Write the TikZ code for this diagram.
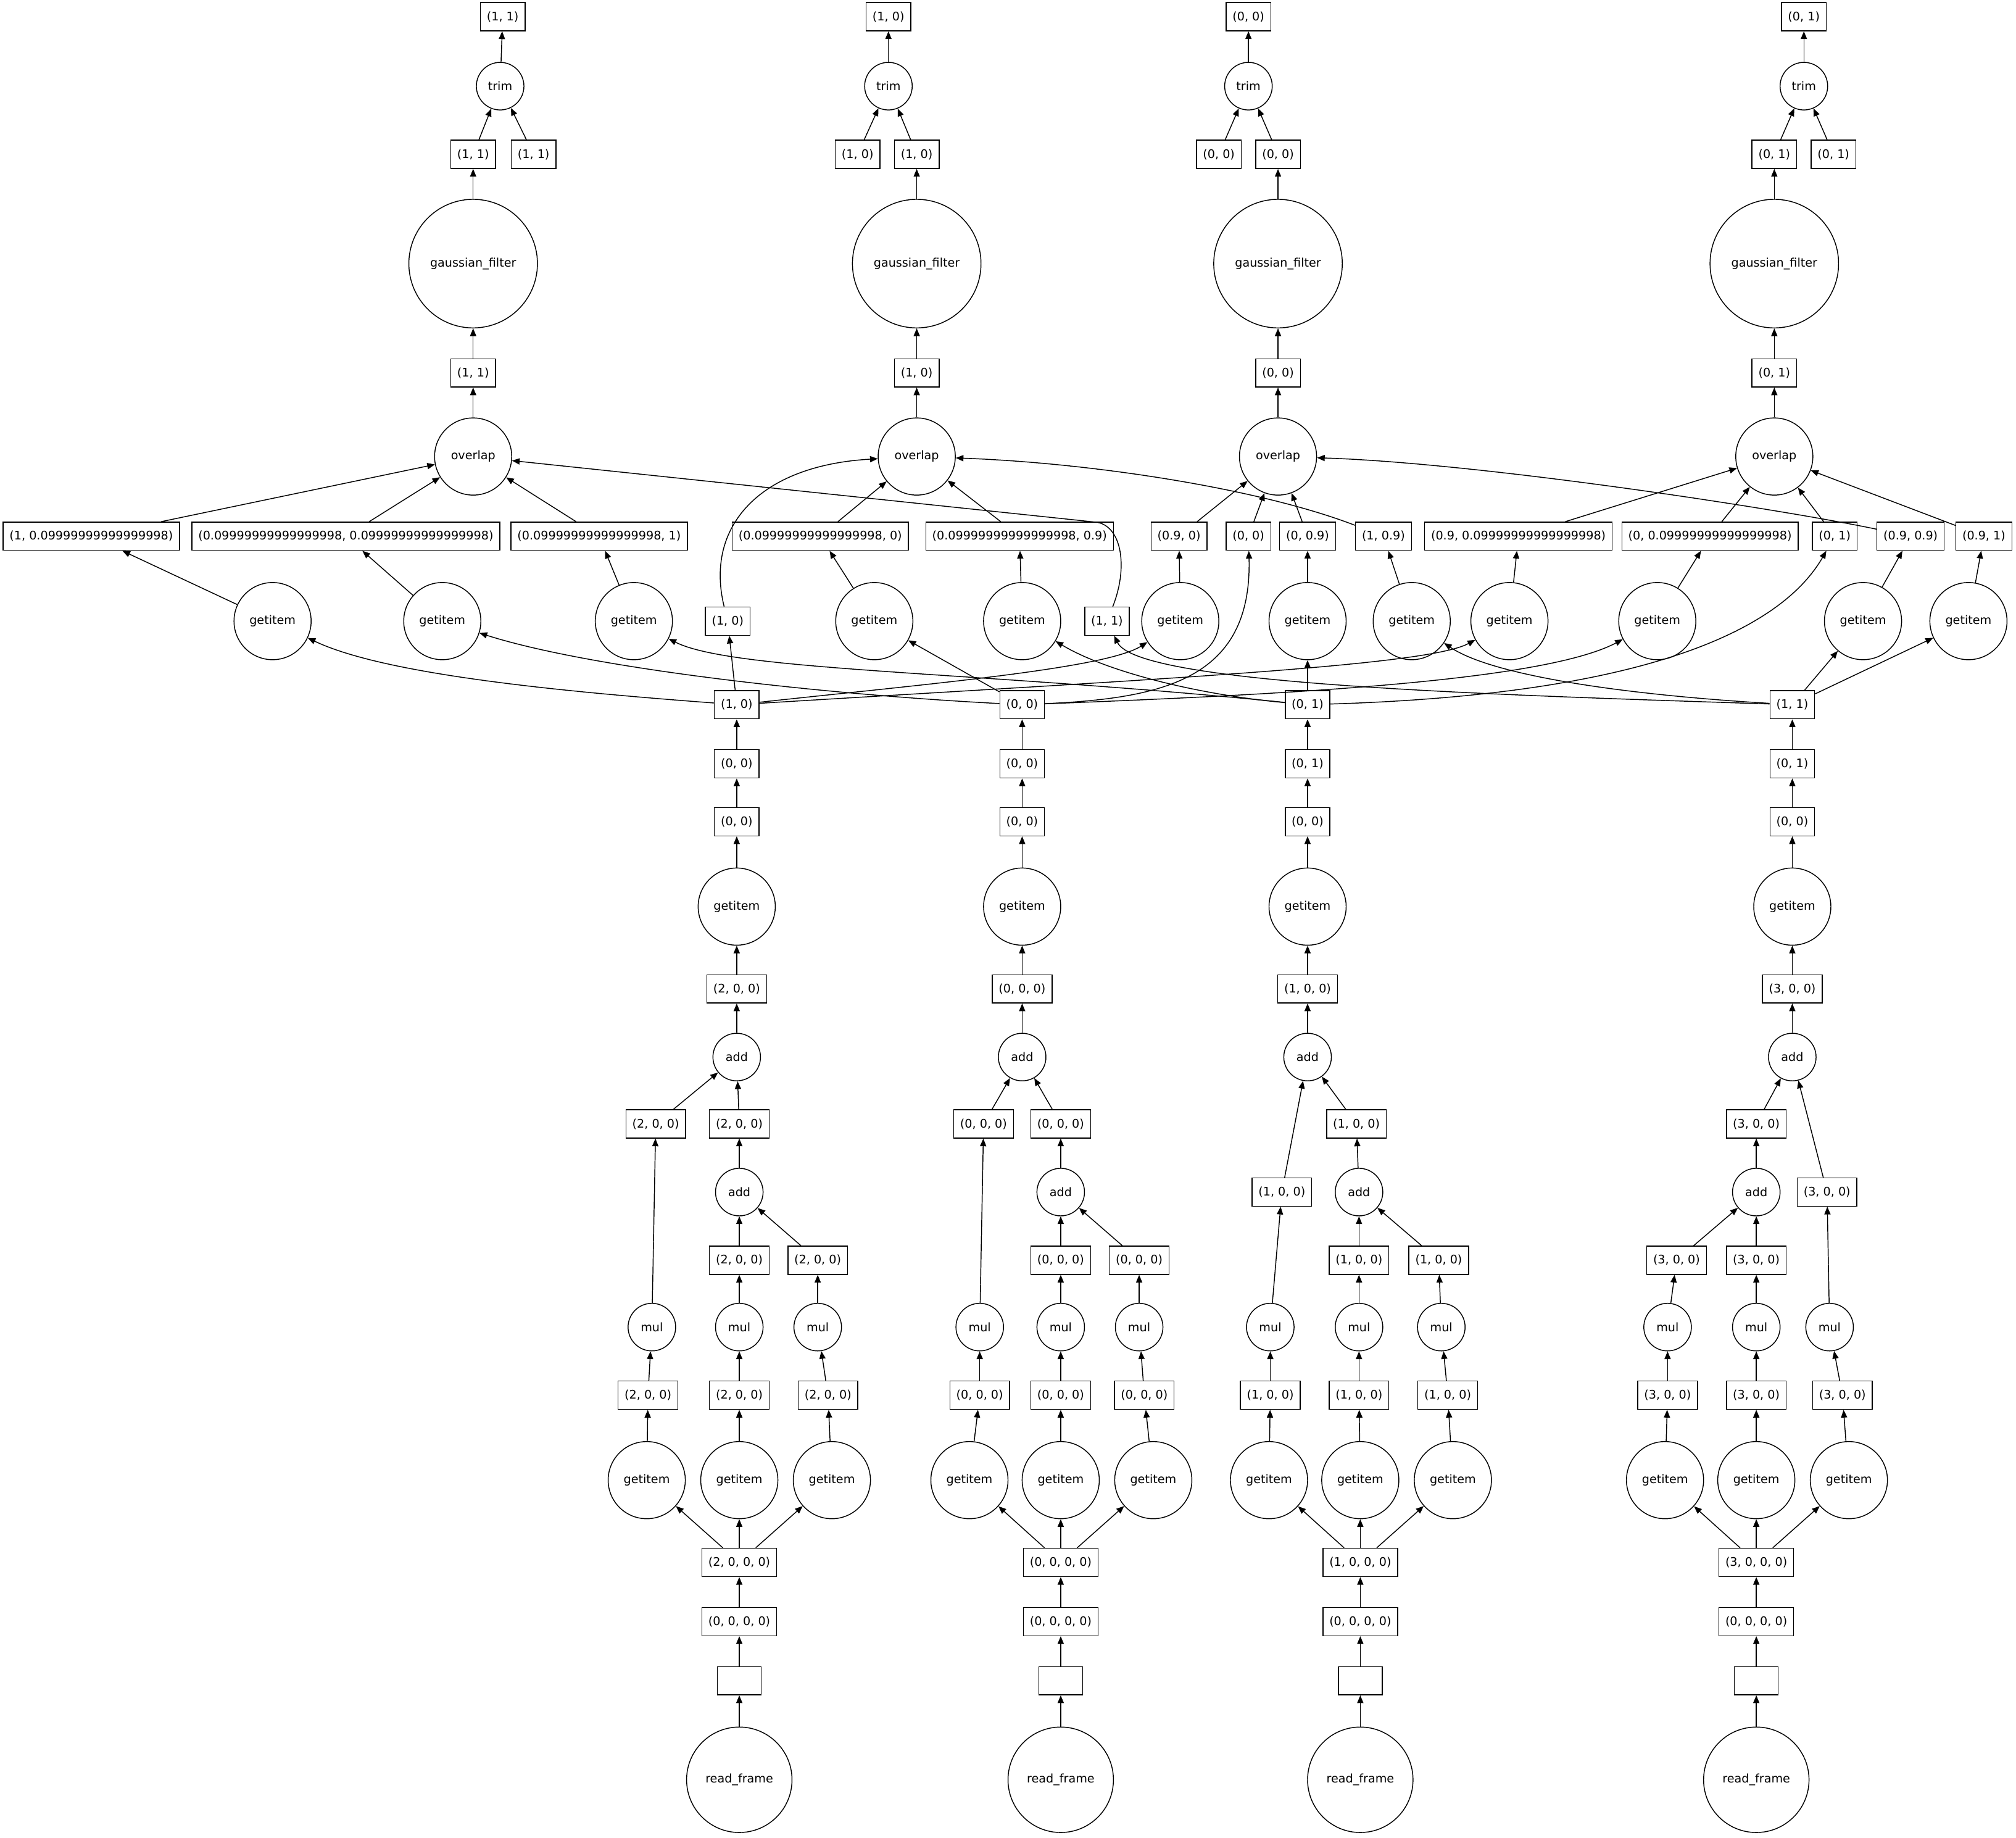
\documentclass[tikz,border=0pt]{standalone}
\usepackage{fontspec}
\newfontfamily\dvs{DejaVu Sans}
\usetikzlibrary{arrows.meta}
\begin{document}
\begin{tikzpicture}[x=1pt,y=-1pt,
  every node/.style={font={\dvs\fontsize{9.2}{11}\selectfont}},
  box/.style={draw, rectangle, minimum width=34pt, minimum height=22pt, inner xsep=5pt, inner ysep=0pt, line width=0.7pt},
  ell/.style={draw, circle, inner sep=0pt, line width=0.7pt},
  sm/.style={ell, minimum size=37pt},
  md/.style={ell, minimum size=60pt},
  gf/.style={ell, minimum size=100pt},
  rf/.style={ell, minimum size=82pt},
  arr/.style={draw, line width=0.7pt, -{Triangle[length=6pt,width=4.8pt]}}]
\useasboundingbox (0,0) rectangle (1568,1429);
\fill[white] (0,0) rectangle (1568,1429);

% ---------- top parts ----------
\node[box] (o1) at (391,13) {(1, 1)};
\node[sm] (tr1) at (389,67) {trim};
\node[box] (t1a) at (368,120) {(1, 1)};
\node[box] (t1b) at (415,120) {(1, 1)};
\node[gf] (g1) at (368,205) {gaussian\_filter};
\node[box] (p1) at (368,290) {(1, 1)};
\node[md] (ov1) at (368,355) {overlap};

\node[box] (o2) at (691,13) {(1, 0)};
\node[sm] (tr2) at (691,67) {trim};
\node[box] (t2a) at (667,120) {(1, 0)};
\node[box] (t2b) at (713,120) {(1, 0)};
\node[gf] (g2) at (713,205) {gaussian\_filter};
\node[box] (p2) at (713,290) {(1, 0)};
\node[md] (ov2) at (713,355) {overlap};

\node[box] (o3) at (971,13) {(0, 0)};
\node[sm] (tr3) at (971,67) {trim};
\node[box] (t3a) at (948,120) {(0, 0)};
\node[box] (t3b) at (994,120) {(0, 0)};
\node[gf] (g3) at (994,205) {gaussian\_filter};
\node[box] (p3) at (994,290) {(0, 0)};
\node[md] (ov3) at (994,355) {overlap};

\node[box] (o4) at (1403,13) {(0, 1)};
\node[sm] (tr4) at (1403,67) {trim};
\node[box] (t4a) at (1380,120) {(0, 1)};
\node[box] (t4b) at (1426,120) {(0, 1)};
\node[gf] (g4) at (1380,205) {gaussian\_filter};
\node[box] (p4) at (1380,290) {(0, 1)};
\node[md] (ov4) at (1380,355) {overlap};

% ---------- row of slices ----------
\node[box] (s1) at (71,417) {(1, 0.09999999999999998)};
\node[box] (s2) at (269,417) {(0.09999999999999998, 0.09999999999999998)};
\node[box] (s3) at (466,417) {(0.09999999999999998, 1)};
\node[box] (s4) at (638,417) {(0.09999999999999998, 0)};
\node[box] (s5) at (793,417) {(0.09999999999999998, 0.9)};
\node[box] (s6) at (917,417) {(0.9, 0)};
\node[box] (s7) at (971,417) {(0, 0)};
\node[box] (s8) at (1017,417) {(0, 0.9)};
\node[box] (s9) at (1076,417) {(1, 0.9)};
\node[box] (s10) at (1181,417) {(0.9, 0.09999999999999998)};
\node[box] (s11) at (1330,417) {(0, 0.09999999999999998)};
\node[box] (s12) at (1427,417) {(0, 1)};
\node[box] (s13) at (1486,417) {(0.9, 0.9)};
\node[box] (s14) at (1543,417) {(0.9, 1)};

% ---------- row of getitems ----------
\node[md] (q1) at (212,483) {getitem};
\node[md] (q2) at (344,483) {getitem};
\node[md] (q3) at (493,483) {getitem};
\node[box] (r1) at (566,483) {(1, 0)};
\node[md] (q4) at (680,483) {getitem};
\node[md] (q5) at (795,483) {getitem};
\node[box] (r2) at (861,483) {(1, 1)};
\node[md] (q6) at (918,483) {getitem};
\node[md] (q7) at (1017,483) {getitem};
\node[md] (q8) at (1098,483) {getitem};
\node[md] (q9) at (1174,483) {getitem};
\node[md] (q10) at (1289,483) {getitem};
\node[md] (q11) at (1449,483) {getitem};
\node[md] (q12) at (1531,483) {getitem};

% ---------- main chunks ----------
\node[box] (A) at (573,548) {(1, 0)};
\node[box] (B) at (795,548) {(0, 0)};
\node[box] (C) at (1017,548) {(0, 1)};
\node[box] (D) at (1394,548) {(1, 1)};

% ---------- column 1 lower ----------
\node[box] (a11) at (573,594) {(0, 0)};
\node[box] (a21) at (573,639) {(0, 0)};
\node[md] (gi1) at (573,705) {getitem};
\node[box] (b11) at (573,769) {(2, 0, 0)};
\node[sm] (ad1) at (573,822) {add};
\node[box] (b21) at (510,874) {(2, 0, 0)};
\node[box] (b31) at (575,874) {(2, 0, 0)};
\node[sm] (adb1) at (575,927) {add};
\node[box] (b41) at (575,980) {(2, 0, 0)};
\node[box] (b51) at (636,980) {(2, 0, 0)};
\node[sm] (mua1) at (507,1032) {mul};
\node[sm] (mub1) at (575,1032) {mul};
\node[sm] (muc1) at (636,1032) {mul};
\node[box] (ma1) at (504,1085) {(2, 0, 0)};
\node[box] (mb1) at (575,1085) {(2, 0, 0)};
\node[box] (mc1) at (644,1085) {(2, 0, 0)};
\node[md] (gta1) at (503,1151) {getitem};
\node[md] (gtb1) at (575,1151) {getitem};
\node[md] (gtc1) at (647,1151) {getitem};
\node[box] (k1) at (575,1215) {(2, 0, 0, 0)};
\node[box] (z1) at (575,1261) {(0, 0, 0, 0)};
\node[box] (e1) at (575,1307) {};
\node[rf] (rf1) at (575,1384) {read\_frame};

% ---------- column 2 lower ----------
\node[box] (a12) at (795,594) {(0, 0)};
\node[box] (a22) at (795,639) {(0, 0)};
\node[md] (gi2) at (795,705) {getitem};
\node[box] (b12) at (795,769) {(0, 0, 0)};
\node[sm] (ad2) at (795,822) {add};
\node[box] (b22) at (765,874) {(0, 0, 0)};
\node[box] (b32) at (825,874) {(0, 0, 0)};
\node[sm] (adb2) at (825,927) {add};
\node[box] (b42) at (825,980) {(0, 0, 0)};
\node[box] (b52) at (886,980) {(0, 0, 0)};
\node[sm] (mua2) at (762,1032) {mul};
\node[sm] (mub2) at (825,1032) {mul};
\node[sm] (muc2) at (886,1032) {mul};
\node[box] (ma2) at (762,1085) {(0, 0, 0)};
\node[box] (mb2) at (825,1085) {(0, 0, 0)};
\node[box] (mc2) at (890,1085) {(0, 0, 0)};
\node[md] (gta2) at (754,1151) {getitem};
\node[md] (gtb2) at (825,1151) {getitem};
\node[md] (gtc2) at (897,1151) {getitem};
\node[box] (k2) at (825,1215) {(0, 0, 0, 0)};
\node[box] (z2) at (825,1261) {(0, 0, 0, 0)};
\node[box] (e2) at (825,1307) {};
\node[rf] (rf2) at (825,1384) {read\_frame};

% ---------- column 3 lower ----------
\node[box] (a13) at (1017,594) {(0, 1)};
\node[box] (a23) at (1017,639) {(0, 0)};
\node[md] (gi3) at (1017,705) {getitem};
\node[box] (b13) at (1017,769) {(1, 0, 0)};
\node[sm] (ad3) at (1017,822) {add};
\node[box] (b23) at (997,927) {(1, 0, 0)};
\node[box] (b33) at (1055,874) {(1, 0, 0)};
\node[sm] (adb3) at (1057,927) {add};
\node[box] (b43) at (1057,980) {(1, 0, 0)};
\node[box] (b53) at (1119,980) {(1, 0, 0)};
\node[sm] (mua3) at (988,1032) {mul};
\node[sm] (mub3) at (1057,1032) {mul};
\node[sm] (muc3) at (1121,1032) {mul};
\node[box] (ma3) at (988,1085) {(1, 0, 0)};
\node[box] (mb3) at (1057,1085) {(1, 0, 0)};
\node[box] (mc3) at (1126,1085) {(1, 0, 0)};
\node[md] (gta3) at (987,1151) {getitem};
\node[md] (gtb3) at (1058,1151) {getitem};
\node[md] (gtc3) at (1130,1151) {getitem};
\node[box] (k3) at (1058,1215) {(1, 0, 0, 0)};
\node[box] (z3) at (1058,1261) {(0, 0, 0, 0)};
\node[box] (e3) at (1058,1307) {};
\node[rf] (rf3) at (1058,1384) {read\_frame};

% ---------- column 4 lower ----------
\node[box] (a14) at (1394,594) {(0, 1)};
\node[box] (a24) at (1394,639) {(0, 0)};
\node[md] (gi4) at (1394,705) {getitem};
\node[box] (b14) at (1394,769) {(3, 0, 0)};
\node[sm] (ad4) at (1394,822) {add};
\node[box] (b24) at (1421,927) {(3, 0, 0)};
\node[box] (b34) at (1366,874) {(3, 0, 0)};
\node[sm] (adb4) at (1366,927) {add};
\node[box] (b44) at (1304,980) {(3, 0, 0)};
\node[box] (b54) at (1366,980) {(3, 0, 0)};
\node[sm] (mua4) at (1297,1032) {mul};
\node[sm] (mub4) at (1366,1032) {mul};
\node[sm] (muc4) at (1423,1032) {mul};
\node[box] (ma4) at (1297,1085) {(3, 0, 0)};
\node[box] (mb4) at (1366,1085) {(3, 0, 0)};
\node[box] (mc4) at (1433,1085) {(3, 0, 0)};
\node[md] (gta4) at (1295,1151) {getitem};
\node[md] (gtb4) at (1366,1151) {getitem};
\node[md] (gtc4) at (1438,1151) {getitem};
\node[box] (k4) at (1366,1215) {(3, 0, 0, 0)};
\node[box] (z4) at (1366,1261) {(0, 0, 0, 0)};
\node[box] (e4) at (1366,1307) {};
\node[rf] (rf4) at (1366,1384) {read\_frame};

% ---------- lower edges (common) ----------
\foreach \i in {1,2,3,4} {
  \draw[arr] (rf\i) -- (e\i);
  \draw[arr] (e\i) -- (z\i);
  \draw[arr] (z\i) -- (k\i);
  \draw[arr] (k\i) -- (gta\i);
  \draw[arr] (k\i) -- (gtb\i);
  \draw[arr] (k\i) -- (gtc\i);
  \draw[arr] (gta\i) -- (ma\i);
  \draw[arr] (gtb\i) -- (mb\i);
  \draw[arr] (gtc\i) -- (mc\i);
  \draw[arr] (ma\i) -- (mua\i);
  \draw[arr] (mb\i) -- (mub\i);
  \draw[arr] (mc\i) -- (muc\i);
  \draw[arr] (b4\i) -- (adb\i);
  \draw[arr] (b5\i) -- (adb\i);
  \draw[arr] (adb\i) -- (b3\i);
  \draw[arr] (b2\i) -- (ad\i);
  \draw[arr] (b3\i) -- (ad\i);
  \draw[arr] (ad\i) -- (b1\i);
  \draw[arr] (b1\i) -- (gi\i);
  \draw[arr] (gi\i) -- (a2\i);
  \draw[arr] (a2\i) -- (a1\i);
}
\foreach \i in {1,2,3} {
  \draw[arr] (mua\i) -- (b2\i);
  \draw[arr] (mub\i) -- (b4\i);
  \draw[arr] (muc\i) -- (b5\i);
}
\draw[arr] (muc4) -- (b24);
\draw[arr] (mua4) -- (b44);
\draw[arr] (mub4) -- (b54);
\draw[arr] (a11) -- (A);
\draw[arr] (a12) -- (B);
\draw[arr] (a13) -- (C);
\draw[arr] (a14) -- (D);

% ---------- top edges ----------
\foreach \i in {1,2,3,4} {
  \draw[arr] (tr\i) -- (o\i);
  \draw[arr] (t\i a) -- (tr\i);
  \draw[arr] (t\i b) -- (tr\i);
  \draw[arr] (p\i) -- (g\i);
  \draw[arr] (ov\i) -- (p\i);
}
\draw[arr] (g1) -- (t1a);
\draw[arr] (g2) -- (t2b);
\draw[arr] (g3) -- (t3b);
\draw[arr] (g4) -- (t4a);

% ---------- slices into overlaps ----------
\draw[arr] (s1) -- (ov1);
\draw[arr] (s2) -- (ov1);
\draw[arr] (s3) -- (ov1);
\draw[arr] (s4) -- (ov2);
\draw[arr] (s5) -- (ov2);
\draw[arr] (s6) -- (ov3);
\draw[arr] (s7) -- (ov3);
\draw[arr] (s8) -- (ov3);
\draw[arr] (s10) -- (ov4);
\draw[arr] (s11) -- (ov4);
\draw[arr] (s12) -- (ov4);
\draw[arr] (s14) -- (ov4);
\draw[arr] (r2) .. controls (878,440) and (872,408) .. (852,406) -- (ov1);
\draw[arr] (r1) .. controls (548,410) and (590,362) .. (ov2);
\draw[arr] (s9) .. controls (980,380) and (850,360) .. (ov2);
\draw[arr] (s13) .. controls (1380,395) and (1150,360) .. (ov3);

% ---------- getitems into slices ----------
\draw[arr] (q1) -- (s1);
\draw[arr] (q2) -- (s2);
\draw[arr] (q3) -- (s3);
\draw[arr] (q4) -- (s4);
\draw[arr] (q5) -- (s5);
\draw[arr] (q6) -- (s6);
\draw[arr] (q7) -- (s8);
\draw[arr] (q8) -- (s9);
\draw[arr] (q9) -- (s10);
\draw[arr] (q10) -- (s11);
\draw[arr] (q11) -- (s13);
\draw[arr] (q12) -- (s14);

% ---------- main chunks to getitems ----------
\draw[arr] (A) .. controls (440,538) and (300,525) .. (q1);
\draw[arr] (A) -- (r1);
\draw[arr] (A) .. controls (720,532) and (860,520) .. (q6);
\draw[arr] (A) .. controls (900,528) and (1110,518) .. (q9);
\draw[arr] (B) .. controls (640,540) and (460,520) .. (q2);
\draw[arr] (B) -- (q4);
\draw[arr] (B) .. controls (905,543) and (974,528) .. (s7);
\draw[arr] (B) .. controls (1000,540) and (1200,530) .. (q10);
\draw[arr] (C) .. controls (760,522) and (570,522) .. (q3);
\draw[arr] (C) .. controls (930,540) and (860,522) .. (q5);
\draw[arr] (C) -- (q7);
\draw[arr] (C) .. controls (1280,540) and (1385,490) .. (s12);
\draw[arr] (D) .. controls (1150,540) and (885,532) .. (r2);
\draw[arr] (D) .. controls (1260,540) and (1160,525) .. (q8);
\draw[arr] (D) -- (q11);
\draw[arr] (D) -- (q12);
\end{tikzpicture}
\end{document}
